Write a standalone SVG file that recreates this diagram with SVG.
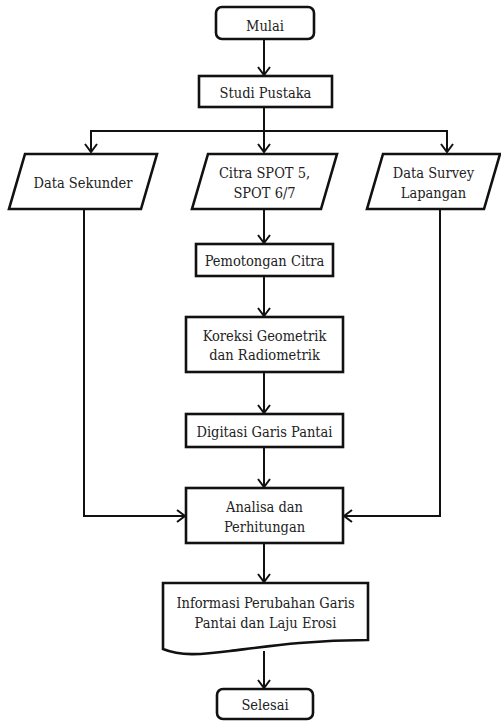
<svg xmlns="http://www.w3.org/2000/svg" width="501" height="721" viewBox="0 0 501 721">
<defs>
<style>
.box{fill:#fff;stroke:#111;stroke-width:2.6;stroke-linejoin:miter}
.t{font-size:14.5px;fill:#222;text-anchor:middle}
.c{fill:none;stroke:#111;stroke-width:2}
</style>
<marker id="arr" markerWidth="16" markerHeight="16" refX="9" refY="6" orient="auto" markerUnits="userSpaceOnUse" viewBox="0 0 16 12">
<path d="M1,0 L9,6 L1,12" fill="none" stroke="#111" stroke-width="2"/>
</marker>
</defs>
<rect width="501" height="721" fill="#fff"/>
<g id="connectors">
<path class="c" d="M264,39 V75" marker-end="url(#arr)"/>
<path class="c" d="M264,107 V152" marker-end="url(#arr)"/>
<path class="c" d="M91,152 V131 H447 V152" marker-end="url(#arr)"/>
<path class="c" d="M91,131 V152" marker-end="url(#arr)"/>
<path class="c" d="M264,209 V243" marker-end="url(#arr)"/>
<path class="c" d="M264,276 V316" marker-end="url(#arr)"/>
<path class="c" d="M264,372 V413" marker-end="url(#arr)"/>
<path class="c" d="M264,447 V487" marker-end="url(#arr)"/>
<path class="c" d="M84,209 V516 H185" marker-end="url(#arr)"/>
<path class="c" d="M440,209 V516 H344" marker-end="url(#arr)"/>
<path class="c" d="M264,543 V582" marker-end="url(#arr)"/>
<path class="c" d="M264,651 V688" marker-end="url(#arr)"/>
</g>
<g font-family="'DejaVu Serif Condensed', 'DejaVu Serif', serif" font-stretch="condensed">
<g id="mulai">
<rect class="box" x="216" y="7" width="98" height="32" rx="6"/>
<text class="t" x="265" y="31">Mulai</text>
</g>
<g id="studi-pustaka">
<rect class="box" x="199" y="76" width="133" height="31"/>
<text class="t" x="265.5" y="98">Studi Pustaka</text>
</g>
<g id="data-sekunder">
<polygon class="box" points="25,154 157,154 141,209 9,209"/>
<text class="t" x="83" y="188">Data Sekunder</text>
</g>
<g id="citra-spot">
<polygon class="box" points="208,154 337,154 321,209 192,209"/>
<text class="t" x="264.5" y="178">Citra SPOT 5,</text>
<text class="t" x="264.5" y="198">SPOT 6/7</text>
</g>
<g id="data-survey">
<polygon class="box" points="383,154 500,154 484,209 367,209"/>
<text class="t" x="433.5" y="178">Data Survey</text>
<text class="t" x="433.5" y="198">Lapangan</text>
</g>
<g id="pemotongan-citra">
<rect class="box" x="196" y="244" width="137" height="32"/>
<text class="t" x="264.5" y="266">Pemotongan Citra</text>
</g>
<g id="koreksi">
<rect class="box" x="186" y="317" width="157" height="55"/>
<text class="t" x="264.5" y="341">Koreksi Geometrik</text>
<text class="t" x="264.5" y="360">dan Radiometrik</text>
</g>
<g id="digitasi">
<rect class="box" x="186" y="414" width="157" height="33"/>
<text class="t" x="264.5" y="437">Digitasi Garis Pantai</text>
</g>
<g id="analisa">
<rect class="box" x="186" y="488" width="157" height="55"/>
<text class="t" x="264.5" y="512">Analisa dan</text>
<text class="t" x="264.5" y="532">Perhitungan</text>
</g>
<g id="informasi">
<path class="box" d="M163,583 H368 V640 C310,640 270,646 230,651 C200,655 180,656 163,649 Z"/>
<text class="t" x="265.5" y="608">Informasi Perubahan Garis</text>
<text class="t" x="265.5" y="628">Pantai dan Laju Erosi</text>
</g>
<g id="selesai">
<rect class="box" x="217" y="689" width="96" height="30" rx="6"/>
<text class="t" x="265" y="710">Selesai</text>
</g>
</g>
</svg>
